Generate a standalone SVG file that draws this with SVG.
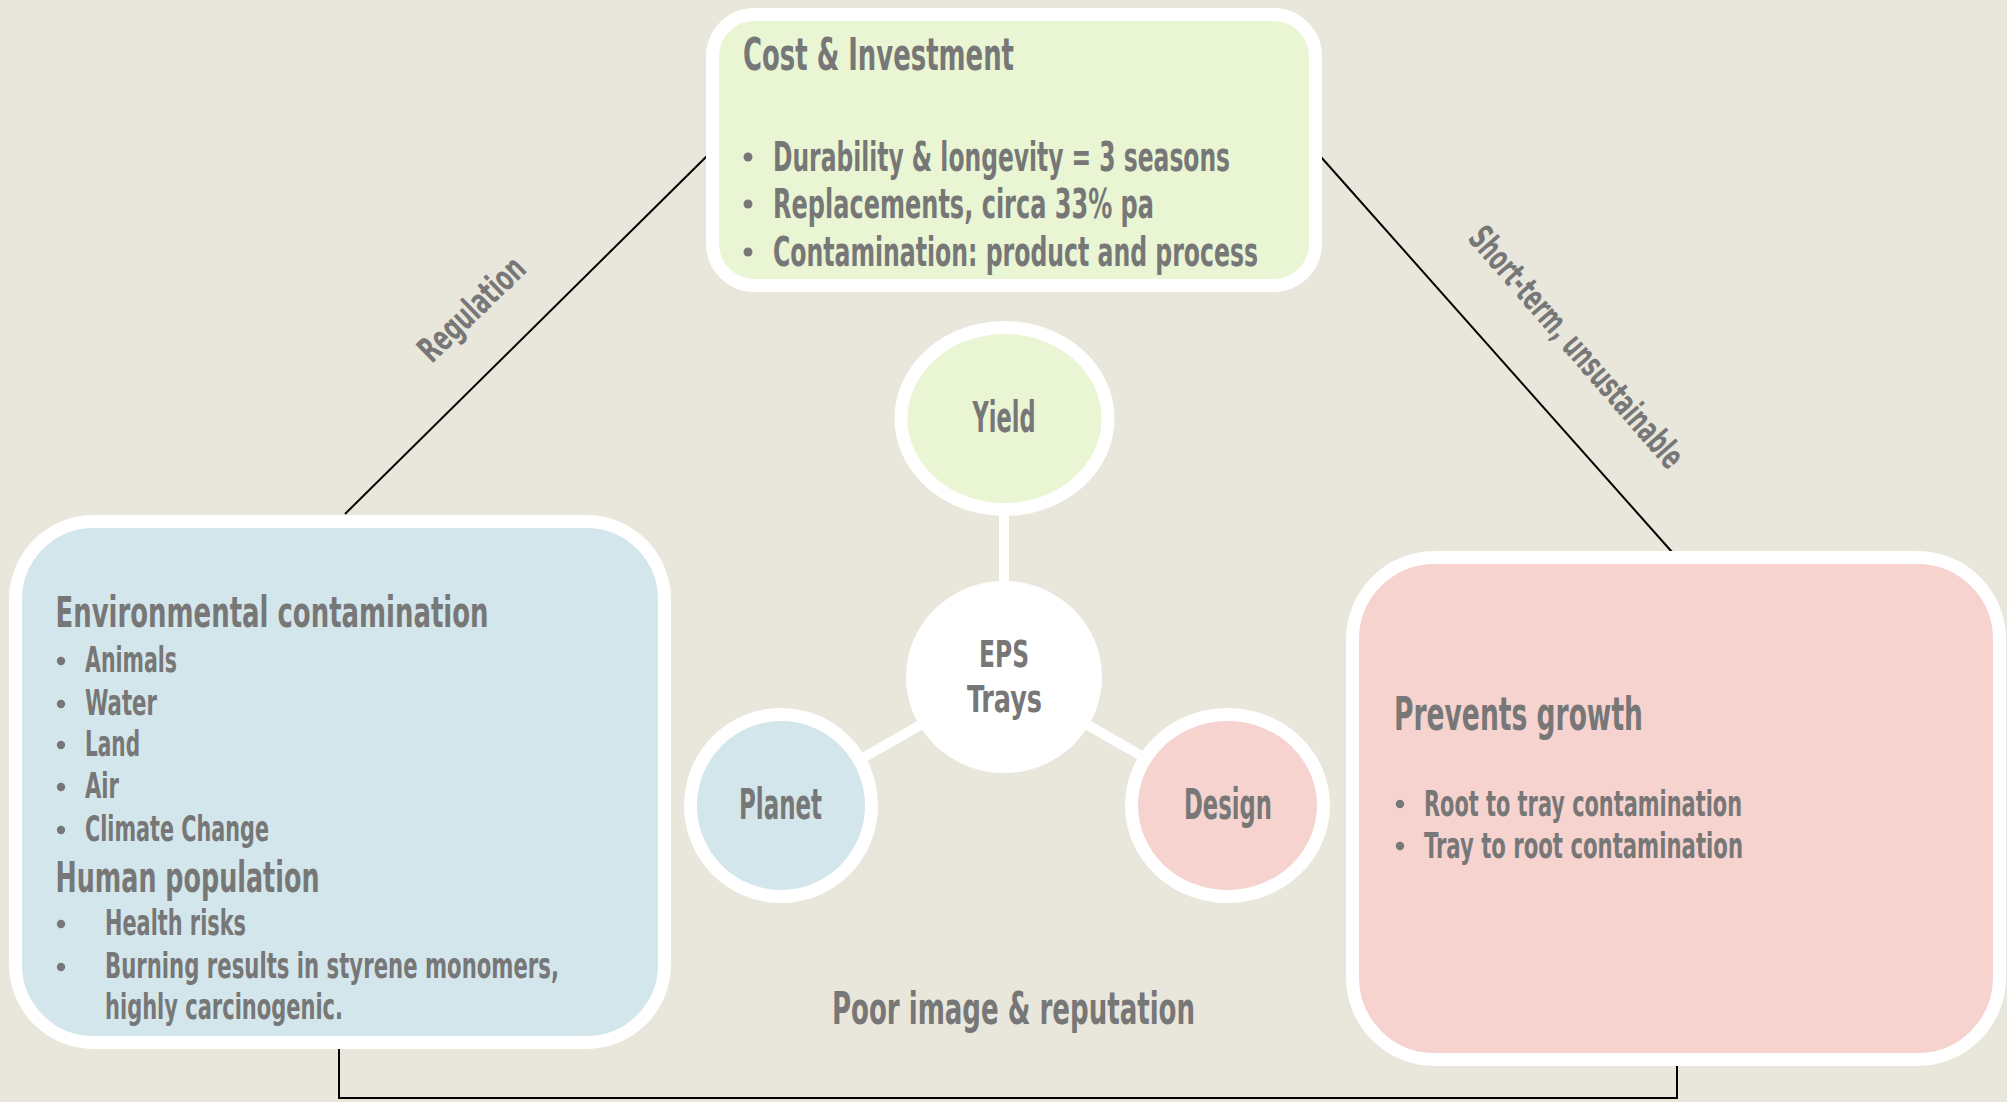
<svg xmlns="http://www.w3.org/2000/svg" width="2007" height="1102" viewBox="0 0 2007 1102">
  <defs>
    <style>
      .bg { fill: #E9E7DC; }
      .box { stroke: #FFFFFF; stroke-width: 13; }
      .green { fill: #E9F5D3; }
      .blue { fill: #D3E6EB; }
      .pink { fill: #F6D3CE; }
      .t { font-family: "Liberation Sans Narrow", "DejaVu Sans Condensed", "Liberation Sans", sans-serif; font-weight: bold; fill: #777777; }
      .c { text-anchor: middle; }
      .dot { fill: #777777; }
      .link { stroke: #000000; stroke-width: 2; fill: none; }
      .spoke { stroke: #FFFFFF; stroke-width: 10; fill: none; }
    </style>
  </defs>

  <rect class="bg" x="0" y="0" width="2007" height="1102"/>

  <g id="connectors">
    <line class="link" x1="345" y1="514" x2="707" y2="156"/>
    <line class="link" x1="1321" y1="157" x2="1672" y2="552"/>
    <polyline class="link" points="339,1045 339,1098 1677,1098 1677,1062"/>
    <line class="spoke" x1="1004" y1="418" x2="1004" y2="677"/>
    <line class="spoke" x1="1004" y1="677" x2="781" y2="805"/>
    <line class="spoke" x1="1004" y1="677" x2="1227" y2="805"/>
    <text class="t c" font-size="35" textLength="134" lengthAdjust="spacingAndGlyphs" transform="translate(471.5,309) rotate(-44)" x="0" y="12">Regulation</text>
    <text class="t c" font-size="35" textLength="307" lengthAdjust="spacingAndGlyphs" transform="translate(1576.5,347) rotate(49)" x="0" y="12">Short-term, unsustainable</text>
    <text class="t c" font-size="44" x="1013.5" y="1024" textLength="363" lengthAdjust="spacingAndGlyphs">Poor image &amp; reputation</text>
  </g>

  <g id="cost-investment">
    <rect class="box green" x="712.5" y="14.5" width="603" height="271" rx="42" ry="42"/>
    <text class="t" font-size="44" x="743" y="70" textLength="271" lengthAdjust="spacingAndGlyphs">Cost &amp; Investment</text>
    <circle class="dot" cx="748" cy="157" r="4.5"/>
    <text class="t" font-size="40" x="773" y="171" textLength="457" lengthAdjust="spacingAndGlyphs">Durability &amp; longevity = 3 seasons</text>
    <circle class="dot" cx="748" cy="204" r="4.5"/>
    <text class="t" font-size="40" x="773" y="218" textLength="381" lengthAdjust="spacingAndGlyphs">Replacements, circa 33% pa</text>
    <circle class="dot" cx="748" cy="252" r="4.5"/>
    <text class="t" font-size="40" x="773" y="266" textLength="485" lengthAdjust="spacingAndGlyphs">Contamination: product and process</text>
  </g>

  <g id="environment">
    <rect class="box blue" x="15.5" y="521.5" width="649" height="521" rx="78" ry="78"/>
    <text class="t" font-size="43" x="55.5" y="627" textLength="433" lengthAdjust="spacingAndGlyphs">Environmental contamination</text>
    <circle class="dot" cx="61" cy="661" r="4.2"/>
    <text class="t" font-size="36" x="85" y="672" textLength="92" lengthAdjust="spacingAndGlyphs">Animals</text>
    <circle class="dot" cx="61" cy="704" r="4.2"/>
    <text class="t" font-size="36" x="85" y="715" textLength="72" lengthAdjust="spacingAndGlyphs">Water</text>
    <circle class="dot" cx="61" cy="745" r="4.2"/>
    <text class="t" font-size="36" x="85" y="756" textLength="55" lengthAdjust="spacingAndGlyphs">Land</text>
    <circle class="dot" cx="61" cy="787" r="4.2"/>
    <text class="t" font-size="36" x="85" y="798" textLength="34" lengthAdjust="spacingAndGlyphs">Air</text>
    <circle class="dot" cx="61" cy="830" r="4.2"/>
    <text class="t" font-size="36" x="85" y="841" textLength="184" lengthAdjust="spacingAndGlyphs">Climate Change</text>
    <text class="t" font-size="43" x="55.5" y="892" textLength="264" lengthAdjust="spacingAndGlyphs">Human population</text>
    <circle class="dot" cx="61" cy="924" r="4.2"/>
    <text class="t" font-size="36" x="105" y="935" textLength="141" lengthAdjust="spacingAndGlyphs">Health risks</text>
    <circle class="dot" cx="61" cy="967" r="4.2"/>
    <text class="t" font-size="36" x="105" y="978" textLength="454" lengthAdjust="spacingAndGlyphs">Burning results in styrene monomers,</text>
    <text class="t" font-size="36" x="105" y="1019" textLength="238" lengthAdjust="spacingAndGlyphs">highly carcinogenic.</text>
  </g>

  <g id="prevents-growth">
    <rect class="box pink" x="1352.5" y="557.5" width="647" height="502" rx="82" ry="82"/>
    <text class="t" font-size="46" x="1394" y="730" textLength="249" lengthAdjust="spacingAndGlyphs">Prevents growth</text>
    <circle class="dot" cx="1400" cy="804" r="4.2"/>
    <text class="t" font-size="36" x="1424" y="816" textLength="318" lengthAdjust="spacingAndGlyphs">Root to tray contamination</text>
    <circle class="dot" cx="1400" cy="846" r="4.2"/>
    <text class="t" font-size="36" x="1424" y="858" textLength="319" lengthAdjust="spacingAndGlyphs">Tray to root contamination</text>
  </g>

  <g id="yield">
    <ellipse class="box green" cx="1004.5" cy="418.5" rx="103.5" ry="91"/>
    <text class="t c" font-size="42" x="1004" y="432" textLength="63" lengthAdjust="spacingAndGlyphs">Yield</text>
  </g>

  <g id="eps-trays">
    <ellipse fill="#FFFFFF" cx="1004" cy="677" rx="98" ry="96"/>
    <text class="t c" font-size="38" x="1004" y="667" textLength="50" lengthAdjust="spacingAndGlyphs">EPS</text>
    <text class="t c" font-size="38" x="1004.5" y="712" textLength="75" lengthAdjust="spacingAndGlyphs">Trays</text>
  </g>

  <g id="planet">
    <ellipse class="box blue" cx="781" cy="805.5" rx="90.5" ry="91"/>
    <text class="t c" font-size="42" x="780.5" y="819" textLength="83" lengthAdjust="spacingAndGlyphs">Planet</text>
  </g>

  <g id="design">
    <ellipse class="box pink" cx="1227.5" cy="805.5" rx="96" ry="91"/>
    <text class="t c" font-size="42" x="1228" y="819" textLength="88" lengthAdjust="spacingAndGlyphs">Design</text>
  </g>
</svg>
